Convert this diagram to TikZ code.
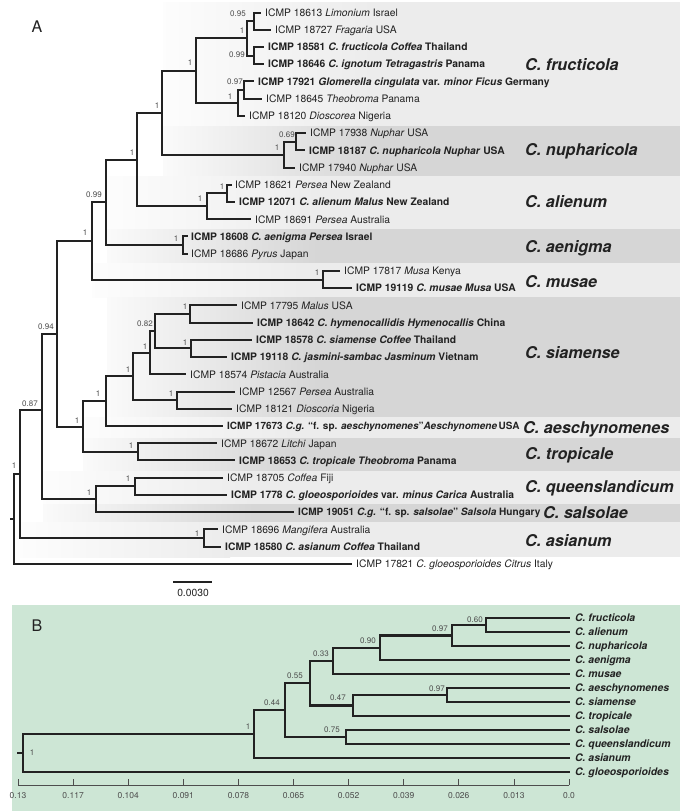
\documentclass[tikz,border=0pt]{standalone}
\usepackage{fontspec}
\setmainfont{TeX Gyre Heros}
\definecolor{ink}{HTML}{222222}
\definecolor{lbl}{HTML}{4D4D4D}
\definecolor{bandL}{HTML}{ECECEC}
\definecolor{bandD}{HTML}{D6D6D6}
\definecolor{mint}{HTML}{CDE6D5}
\newcommand{\myband}[4]{%
  \shade[left color=#4!12, right color=#4] (#1,#2) rectangle ({#1+210},#3);
  \fill[#4] ({#1+210},#2) rectangle (680,#3);}
\begin{document}
\begin{tikzpicture}[x=1pt,y=-1pt]
\tikzset{
  br/.style={draw=ink, line width=2pt, line cap=rect, line join=miter},
  brB/.style={draw=ink, line width=2.1pt, line cap=rect, line join=miter},
  leaf/.style={anchor=base west, inner sep=0pt, text=ink, font=\fontsize{10.3}{12}\selectfont},
  leafB/.style={anchor=base west, inner sep=0pt, text=ink, font=\fontsize{10.4}{12}\selectfont\bfseries\itshape},
  spname/.style={anchor=base west, inner sep=0pt, text=ink, font=\fontsize{16.2}{19}\selectfont\bfseries\itshape},
  supp/.style={inner sep=0pt, text=lbl, font=\fontsize{8}{9}\selectfont},
  axlab/.style={inner sep=0pt, text=lbl, font=\fontsize{8.5}{10}\selectfont},
  panel/.style={inner sep=0pt, text=ink, font=\fontsize{16}{18}\selectfont}
}
\useasboundingbox (0,0) rectangle (697,811);
\fill[white] (0,0) rectangle (697,811);

% ---------- bands (panel A) ----------
\myband{163}{2}{126}{bandL}
\myband{163}{126}{176}{bandD}
\myband{107}{176}{229}{bandL}
\myband{107}{229}{263}{bandD}
\myband{92}{263}{297}{bandL}
\myband{107}{297}{417}{bandD}
\myband{83}{417}{438}{bandL}
\myband{83}{438}{471}{bandD}
\myband{43}{471}{504}{bandL}
\myband{43}{504}{522}{bandD}
\myband{20}{522}{557}{bandL}

\node[panel] (lblA) at (37,27) {A};

% ---------- leaf end points ----------
\coordinate (L1) at (260,12.50);
\coordinate (L2) at (270,29.73);
\coordinate (L3) at (263,46.96);
\coordinate (L4) at (263,64.19);
\coordinate (L5) at (253,81.42);
\coordinate (L6) at (261,98.65);
\coordinate (L7) at (244,115.88);
\coordinate (L8) at (305,133.11);
\coordinate (L9) at (304,150.34);
\coordinate (L10) at (294,167.57);
\coordinate (L11) at (231,184.80);
\coordinate (L12) at (234,202.03);
\coordinate (L13) at (250,219.26);
\coordinate (L14) at (187,236.49);
\coordinate (L15) at (187,253.72);
\coordinate (L16) at (339,270.95);
\coordinate (L17) at (351,288.18);
\coordinate (L18) at (236,305.41);
\coordinate (L19) at (252,322.64);
\coordinate (L20) at (251,339.87);
\coordinate (L21) at (226,357.10);
\coordinate (L22) at (185,374.33);
\coordinate (L23) at (234,391.56);
\coordinate (L24) at (231,408.79);
\coordinate (L25) at (222,426.02);
\coordinate (L26) at (216,443.25);
\coordinate (L27) at (234,460.48);
\coordinate (L28) at (222,477.71);
\coordinate (L29) at (226,494.94);
\coordinate (L30) at (293,512.17);
\coordinate (L31) at (217,529.40);
\coordinate (L32) at (220,546.63);
\coordinate (L33) at (351,563.86);

% ---------- internal nodes ----------
\coordinate (N1) at (254,21.12);
\coordinate (N2) at (254,55.58);
\coordinate (N3) at (247,38.35);
\coordinate (N4) at (244,90.04);
\coordinate (N5) at (238,102.96);
\coordinate (N6) at (196,70.65);
\coordinate (N7) at (296,141.73);
\coordinate (N8) at (284,154.65);
\coordinate (N9) at (162,112.65);
\coordinate (N11) at (227,193.42);
\coordinate (N12) at (207,206.34);
\coordinate (N10) at (137,159.50);
\coordinate (N15) at (183,245.11);
\coordinate (N13) at (106,202.30);
\coordinate (N16) at (323,279.57);
\coordinate (N14) at (92,240.94);
\coordinate (N23) at (190,314.03);
\coordinate (N24) at (191,348.49);
\coordinate (N22) at (155,331.26);
\coordinate (N21) at (150,352.80);
\coordinate (N25) at (177,400.18);
\coordinate (N20) at (133,376.49);
\coordinate (N19) at (106,401.25);
\coordinate (N26) at (138,451.87);
\coordinate (N18) at (83,426.56);
\coordinate (N17) at (57,333.75);
\coordinate (N29) at (135,486.33);
\coordinate (N28) at (96,499.25);
\coordinate (N27) at (42,410);
\coordinate (N31) at (204,538.02);
\coordinate (N30) at (20,474);
\coordinate (R) at (14,518.9);
\coordinate (R0) at (10.5,518.9);

% ---------- branches ----------
\draw[br] (N1) |- (L1);  \draw[br] (N1) |- (L2);
\draw[br] (N2) |- (L3);  \draw[br] (N2) |- (L4);
\draw[br] (N3) |- (N1);  \draw[br] (N3) |- (N2);
\draw[br] (N4) |- (L5);  \draw[br] (N4) |- (L6);
\draw[br] (N5) |- (N4);  \draw[br] (N5) |- (L7);
\draw[br] (N6) |- (N3);  \draw[br] (N6) |- (N5);
\draw[br] (N7) |- (L8);  \draw[br] (N7) |- (L9);
\draw[br] (N8) |- (N7);  \draw[br] (N8) |- (L10);
\draw[br] (N9) |- (N6);  \draw[br] (N9) |- (N8);
\draw[br] (N11) |- (L11); \draw[br] (N11) |- (L12);
\draw[br] (N12) |- (N11); \draw[br] (N12) |- (L13);
\draw[br] (N10) |- (N9); \draw[br] (N10) |- (N12);
\draw[br] (N15) |- (L14); \draw[br] (N15) |- (L15);
\draw[br] (N13) |- (N10); \draw[br] (N13) |- (N15);
\draw[br] (N16) |- (L16); \draw[br] (N16) |- (L17);
\draw[br] (N14) |- (N13); \draw[br] (N14) |- (N16);
\draw[br] (N23) |- (L18); \draw[br] (N23) |- (L19);
\draw[br] (N24) |- (L20); \draw[br] (N24) |- (L21);
\draw[br] (N22) |- (N23); \draw[br] (N22) |- (N24);
\draw[br] (N21) |- (N22); \draw[br] (N21) |- (L22);
\draw[br] (N25) |- (L23); \draw[br] (N25) |- (L24);
\draw[br] (N20) |- (N21); \draw[br] (N20) |- (N25);
\draw[br] (N19) |- (N20); \draw[br] (N19) |- (L25);
\draw[br] (N26) |- (L26); \draw[br] (N26) |- (L27);
\draw[br] (N18) |- (N19); \draw[br] (N18) |- (N26);
\draw[br] (N17) |- (N14); \draw[br] (N17) |- (N18);
\draw[br] (N29) |- (L28); \draw[br] (N29) |- (L29);
\draw[br] (N28) |- (N29); \draw[br] (N28) |- (L30);
\draw[br] (N27) |- (N17); \draw[br] (N27) |- (N28);
\draw[br] (N31) |- (L31); \draw[br] (N31) |- (L32);
\draw[br] (N30) |- (N27); \draw[br] (N30) |- (N31);
\draw[br] (R) |- (N30); \draw[br] (R) |- (L33);
\draw[br] (R0) -- (R);

% ---------- leaf labels ----------
\node[leaf] (T1) at (265,16.2) {ICMP 18613 \textit{Limonium} Israel};
\node[leaf] (T2) at (275,33.4) {ICMP 18727 \textit{Fragaria} USA};
\node[leaf] (T3) at (268,50.7) {\textbf{ICMP 18581 \textit{C. fructicola Coffea} Thailand}};
\node[leaf] (T4) at (268,67.9) {\textbf{ICMP 18646 \textit{C. ignotum Tetragastris} Panama}};
\node[leaf] (T5) at (258,85.1) {\textbf{ICMP 17921 \textit{Glomerella cingulata} var. \textit{minor Ficus} Germany}};
\node[leaf] (T6) at (266,102.4) {ICMP 18645 \textit{Theobroma} Panama};
\node[leaf] (T7) at (249,119.6) {ICMP 18120 \textit{Dioscorea} Nigeria};
\node[leaf] (T8) at (310,136.8) {ICMP 17938 \textit{Nuphar} USA};
\node[leaf] (T9) at (309,154.0) {\textbf{ICMP 18187 \textit{C. nupharicola Nuphar} USA}};
\node[leaf] (T10) at (299,171.3) {ICMP 17940 \textit{Nuphar} USA};
\node[leaf] (T11) at (235,188.5) {ICMP 18621 \textit{Persea} New Zealand};
\node[leaf] (T12) at (239,205.7) {\textbf{ICMP 12071 \textit{C. alienum Malus} New Zealand}};
\node[leaf] (T13) at (255,223.0) {ICMP 18691 \textit{Persea} Australia};
\node[leaf] (T14) at (191,240.2) {\textbf{ICMP 18608 \textit{C. aenigma Persea} Israel}};
\node[leaf] (T15) at (191,257.4) {ICMP 18686 \textit{Pyrus} Japan};
\node[leaf] (T16) at (344,274.7) {ICMP 17817 \textit{Musa} Kenya};
\node[leaf] (T17) at (356,291.9) {\textbf{ICMP 19119 \textit{C. musae Musa} USA}};
\node[leaf] (T18) at (241,309.1) {ICMP 17795 \textit{Malus} USA};
\node[leaf] (T19) at (257,326.3) {\textbf{ICMP 18642 \textit{C. hymenocallidis Hymenocallis} China}};
\node[leaf] (T20) at (256,343.6) {\textbf{ICMP 18578 \textit{C. siamense Coffee} Thailand}};
\node[leaf] (T21) at (231,360.8) {\textbf{ICMP 19118 \textit{C. jasmini-sambac Jasminum} Vietnam}};
\node[leaf] (T22) at (190,378.0) {ICMP 18574 \textit{Pistacia} Australia};
\node[leaf] (T23) at (239,395.3) {ICMP 12567 \textit{Persea} Australia};
\node[leaf] (T24) at (236,412.5) {ICMP 18121 \textit{Dioscoria} Nigeria};
\node[leaf, font=\fontsize{10}{12}\selectfont] (T25) at (227,429.7) {\textbf{ICMP 17673 \textit{C.g.} “f. sp. \textit{aeschynomenes}”\textit{Aeschynomene}\,USA}};
\node[leaf] (T26) at (221,447.0) {ICMP 18672 \textit{Litchi} Japan};
\node[leaf] (T27) at (239,464.2) {\textbf{ICMP 18653 \textit{C. tropicale Theobroma} Panama}};
\node[leaf] (T28) at (227,481.4) {ICMP 18705 \textit{Coffea} Fiji};
\node[leaf] (T29) at (231,498.6) {\textbf{ICMP 1778 \textit{C. gloeosporioides} var. \textit{minus Carica} Australia}};
\node[leaf, font=\fontsize{10.1}{12}\selectfont] (T30) at (298,515.9) {\textbf{ICMP 19051 \textit{C.g.} “f. sp. \textit{salsolae}” \textit{Salsola} Hungary}};
\node[leaf] (T31) at (222,533.1) {ICMP 18696 \textit{Mangifera} Australia};
\node[leaf] (T32) at (225,550.3) {\textbf{ICMP 18580 \textit{C. asianum Coffea} Thailand}};
\node[leaf] (T33) at (356,567.6) {ICMP 17821 \textit{C. gloeosporioides Citrus} Italy};

% ---------- support values (panel A) ----------
\node[supp] (S1) at (238,14) {0.95};
\node[supp] (S3) at (242,31) {1};
\node[supp] (S2) at (237,55) {0.99};
\node[supp] (S6) at (190,63) {1};
\node[supp] (S4) at (235,82) {0.97};
\node[supp] (S5) at (230,97) {1};
\node[supp] (S7) at (287,135) {0.69};
\node[supp] (S8) at (277,148) {1};
\node[supp] (S9) at (157,106) {1};
\node[supp] (S10) at (132,153) {1};
\node[supp] (S11) at (222,187) {1};
\node[supp] (S12) at (200,199) {1};
\node[supp] (S13) at (94,195) {0.99};
\node[supp] (S15) at (176,239) {1};
\node[supp] (S14) at (85,233) {1};
\node[supp] (S16) at (317,273) {1};
\node[supp] (S17) at (46,327) {0.94};
\node[supp] (S23) at (185,307) {1};
\node[supp] (S22) at (145,324) {0.82};
\node[supp] (S24) at (185,343) {1};
\node[supp] (S21) at (145,347) {1};
\node[supp] (S20) at (128,370) {1};
\node[supp] (S25) at (171,394) {1};
\node[supp] (S19) at (98,394) {1};
\node[supp] (S18) at (77,421) {1};
\node[supp] (S26) at (131,446) {1};
\node[supp] (S27) at (30,404) {0.87};
\node[supp] (S29) at (128,479) {1};
\node[supp] (S28) at (89,493) {1};
\node[supp] (S30) at (14,466) {1};
\node[supp] (S31) at (197,534) {1};

% ---------- species names ----------
\node[spname] (C1) at (525,70.8) {C. fructicola};
\node[spname] (C2) at (525,155.8) {C. nupharicola};
\node[spname] (C3) at (525,207.8) {C. alienum};
\node[spname] (C4) at (525,252.8) {C. aenigma};
\node[spname] (C5) at (525,287.8) {C. musae};
\node[spname] (C6) at (525,358.8) {C. siamense};
\node[spname] (C7) at (523,433.8) {C. aeschynomenes};
\node[spname] (C8) at (525,459.8) {C. tropicale};
\node[spname] (C9) at (525,492.8) {C. queenslandicum};
\node[spname] (C10) at (543,518.8) {C. salsolae};
\node[spname] (C11) at (525,546.8) {C. asianum};

% ---------- scale bar ----------
\coordinate (SB1) at (173,582);
\coordinate (SB2) at (212,582);
\draw[draw=ink, line width=1.5pt] (SB1) -- (SB2);
\node[inner sep=0pt, text=ink, font=\fontsize{10.3}{12}\selectfont] (SBL) at (193,593) {0.0030};

% ================= panel B =================
\fill[mint] (12,605) rectangle (680,811);
\node[panel] (lblB) at (37,626) {B};

\coordinate (M1) at (569,618);
\coordinate (M2) at (569,632);
\coordinate (M3) at (569,646);
\coordinate (M4) at (569,660);
\coordinate (M5) at (569,674);
\coordinate (M6) at (569,688);
\coordinate (M7) at (569,702);
\coordinate (M8) at (569,716);
\coordinate (M9) at (569,730);
\coordinate (M10) at (569,744);
\coordinate (M11) at (569,758);
\coordinate (M12) at (569,772);

\coordinate (B9) at (486,625);
\coordinate (B8) at (452,635.5);
\coordinate (B7) at (380,647.75);
\coordinate (B5) at (333,660.9);
\coordinate (B10) at (447,695);
\coordinate (B6) at (353,705.5);
\coordinate (B3) at (310,683.2);
\coordinate (B4) at (346,737);
\coordinate (B2) at (285,710.1);
\coordinate (B1) at (254,734);
\coordinate (BR) at (23,753);
\coordinate (BR0) at (18,753);

\draw[brB] (B9) |- (M1); \draw[brB] (B9) |- (M2);
\draw[brB] (B8) |- (B9); \draw[brB] (B8) |- (M3);
\draw[brB] (B7) |- (B8); \draw[brB] (B7) |- (M4);
\draw[brB] (B5) |- (B7); \draw[brB] (B5) |- (M5);
\draw[brB] (B10) |- (M6); \draw[brB] (B10) |- (M7);
\draw[brB] (B6) |- (B10); \draw[brB] (B6) |- (M8);
\draw[brB] (B3) |- (B5); \draw[brB] (B3) |- (B6);
\draw[brB] (B4) |- (M9); \draw[brB] (B4) |- (M10);
\draw[brB] (B2) |- (B3); \draw[brB] (B2) |- (B4);
\draw[brB] (B1) |- (B2); \draw[brB] (B1) |- (M11);
\draw[brB] (BR) |- (B1); \draw[brB] (BR) |- (M12);
\draw[brB] (BR0) -- (BR);

\node[leafB] (U1) at (575,621.7) {C. fructicola};
\node[leafB] (U2) at (575,635.7) {C. alienum};
\node[leafB] (U3) at (575,649.7) {C. nupharicola};
\node[leafB] (U4) at (575,663.7) {C. aenigma};
\node[leafB] (U5) at (575,677.7) {C. musae};
\node[leafB] (U6) at (575,691.7) {C. aeschynomenes};
\node[leafB] (U7) at (575,705.7) {C. siamense};
\node[leafB] (U8) at (575,719.7) {C. tropicale};
\node[leafB] (U9) at (575,733.7) {C. salsolae};
\node[leafB] (U10) at (575,747.7) {C. queenslandicum};
\node[leafB] (U11) at (575,761.7) {C. asianum};
\node[leafB] (U12) at (575,775.7) {C. gloeosporioides};

\node[supp] (V9) at (475,620) {0.60};
\node[supp] (V8) at (440,629) {0.97};
\node[supp] (V7) at (368,641) {0.90};
\node[supp] (V5) at (321,654) {0.33};
\node[supp] (V3) at (295,676) {0.55};
\node[supp] (V2) at (272,703) {0.44};
\node[supp] (V1) at (248,727) {1};
\node[supp] (V6) at (338,698) {0.47};
\node[supp] (V10) at (437,689) {0.97};
\node[supp] (V4) at (332,730) {0.75};
\node[supp] (VR) at (32,753) {1};

% axis
\coordinate (AX0) at (18,785);
\coordinate (AX1) at (569,785);
\draw[draw=lbl, line width=0.8pt] (AX0) -- (AX1);
\foreach \xx/\tl [count=\k] in {18/0.13, 73.1/0.117, 128.2/0.104, 183.3/0.091, 238.4/0.078, 293.5/0.065, 348.6/0.052, 403.7/0.039, 458.8/0.026, 513.9/0.013, 569/0.0}{
  \coordinate (TK\k) at (\xx,785);
  \coordinate (TT\k) at (\xx,779);
  \draw[draw=lbl, line width=0.8pt] (TK\k) -- (TT\k);
  \node[axlab] (TL\k) at (\xx,796) {\tl};
}
\end{tikzpicture}
\end{document}
